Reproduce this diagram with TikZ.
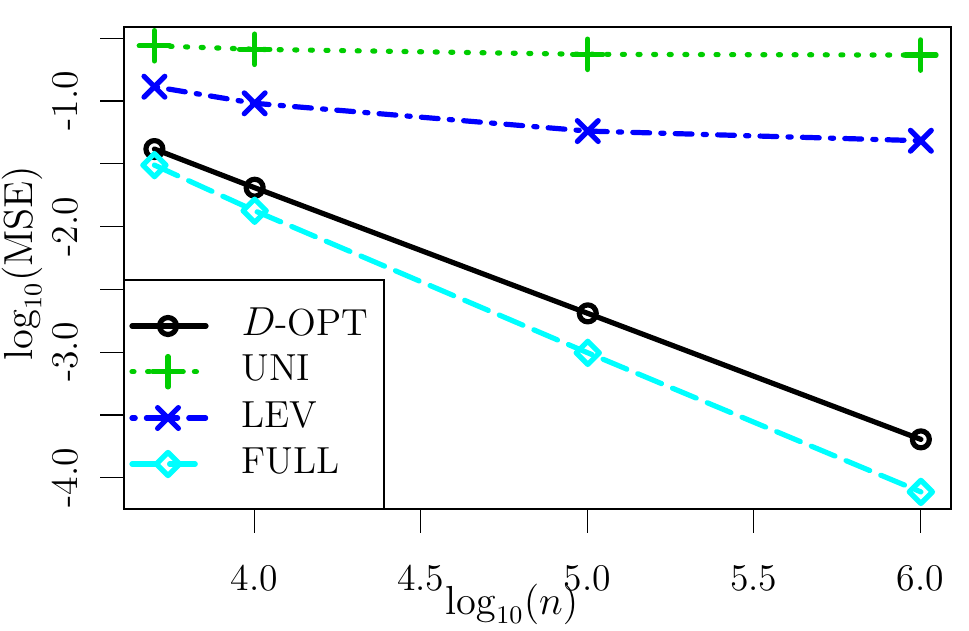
\documentclass[tikz,border=0pt]{standalone}
\usepackage{amsmath}
\usepackage{xcolor}
\usepackage{tikz}
\definecolor{greenthree}{RGB}{0,205,0}
\definecolor{rblue}{RGB}{0,0,255}
\definecolor{rcyan}{RGB}{0,255,255}
\tikzset{
  lab/.style={font=\fontsize{13.4}{16}\selectfont, inner sep=0pt},
  series/.style={line width=1.85pt, line cap=round, line join=round},
  doptline/.style={series, black},
  uniline/.style={series, greenthree, dash pattern=on 0.025cm off 0.17cm},
  levline/.style={series, rblue, dash pattern=on 0.04cm off 0.14cm on 0.21cm off 0.14cm},
  fullline/.style={series, rcyan, dash pattern=on 0.32cm off 0.15cm},
  mcirc/.pic={\draw[solid] (0,0) circle (0.106cm);},
  mplus/.pic={\draw[solid] (-0.19cm,0) -- (0.19cm,0) (0,-0.19cm) -- (0,0.19cm);},
  mcross/.pic={\draw[solid] (-0.13cm,-0.13cm) -- (0.13cm,0.13cm) (-0.13cm,0.13cm) -- (0.13cm,-0.13cm);},
  mdiam/.pic={\draw[solid] (0.145cm,0) -- (0,0.145cm) -- (-0.145cm,0) -- (0,-0.145cm) -- cycle;},
}
\begin{document}
\begin{tikzpicture}[x=0.0125cm, y=-0.0125cm]
	\useasboundingbox (0,0) rectangle (969,630);
	% ticks and tick labels
	\draw[line width=0.45pt] (254.3,509.3) -- (254.3,533.3) (420.8,509.3) -- (420.8,533.3) (587.3,509.3) -- (587.3,533.3) (753.8,509.3) -- (753.8,533.3) (920.3,509.3) -- (920.3,533.3);
	\draw[line width=0.45pt] (100,38.2) -- (124,38.2) (100,101) -- (124,101) (100,163.8) -- (124,163.8) (100,226.6) -- (124,226.6) (100,289.4) -- (124,289.4) (100,352.2) -- (124,352.2) (100,415) -- (124,415) (100,477.8) -- (124,477.8);
	\node[lab] (xa) at (254.3,578) {4.0};
	\node[lab] (xb) at (420.8,578) {4.5};
	\node[lab] (xc) at (587.3,578) {5.0};
	\node[lab] (xd) at (753.8,578) {5.5};
	\node[lab] (xe) at (920.3,578) {6.0};
	\node[lab, rotate=90] (ya) at (65,101) {-1.0};
	\node[lab, rotate=90] (yb) at (65,226.6) {-2.0};
	\node[lab, rotate=90] (yc) at (65,352.2) {-3.0};
	\node[lab, rotate=90] (yd) at (65,477.8) {-4.0};
	\node[lab] (xlabel) at (511.7,604) {$\log_{10}(n)$};
	\node[lab, rotate=90] (ylabel) at (22,263) {$\log_{10}(\mathrm{MSE})$};
	% data, in plot units
	\begin{scope}[shift={(-1077.7,-24.6)}, x=4.1625cm, y=1.57cm]
	\coordinate (dopt1) at (3.699,-1.382);
	\coordinate (dopt2) at (4,-1.690);
	\coordinate (dopt3) at (5,-2.690);
	\coordinate (dopt4) at (6,-3.693);
	\coordinate (uni1) at (3.699,-0.560);
	\coordinate (uni2) at (4,-0.588);
	\coordinate (uni3) at (5,-0.628);
	\coordinate (uni4) at (6,-0.634);
	\coordinate (lev1) at (3.699,-0.886);
	\coordinate (lev2) at (4,-1.018);
	\coordinate (lev3) at (5,-1.239);
	\coordinate (lev4) at (6,-1.316);
	\coordinate (full1) at (3.699,-1.510);
	\coordinate (full2) at (4,-1.873);
	\coordinate (full3) at (5,-3.004);
	\coordinate (full4) at (6,-4.111);
	\draw[doptline] (dopt1) -- (dopt2) -- (dopt3) -- (dopt4);
	\draw[uniline] (uni1) -- (uni2) -- (uni3) -- (uni4);
	\draw[levline] (lev1) -- (lev2) -- (lev3) -- (lev4);
	\draw[fullline] (full1) -- (full2) -- (full3) -- (full4);
	\pic[doptline] at (dopt1) {mcirc}; \pic[doptline] at (dopt2) {mcirc}; \pic[doptline] at (dopt3) {mcirc}; \pic[doptline] at (dopt4) {mcirc};
	\pic[uniline] at (uni1) {mplus}; \pic[uniline] at (uni2) {mplus}; \pic[uniline] at (uni3) {mplus}; \pic[uniline] at (uni4) {mplus};
	\pic[levline] at (lev1) {mcross}; \pic[levline] at (lev2) {mcross}; \pic[levline] at (lev3) {mcross}; \pic[levline] at (lev4) {mcross};
	\pic[fullline] at (full1) {mdiam}; \pic[fullline] at (full2) {mdiam}; \pic[fullline] at (full3) {mdiam}; \pic[fullline] at (full4) {mdiam};
	\end{scope}
	% frame
	\draw[line width=0.6pt] (124,27) rectangle (950.7,509.3);
	% legend
	\filldraw[line width=0.6pt, fill=white] (124,280) rectangle (384.3,509.3);
	\coordinate (la) at (132,326); \coordinate (lb) at (206,326);
	\coordinate (lc) at (132,371.7); \coordinate (ld) at (206,371.7);
	\coordinate (le) at (132,418); \coordinate (lf) at (206,418);
	\coordinate (lg) at (132,464); \coordinate (lh) at (206,464);
	\draw[doptline] (la) -- (lb);
	\draw[uniline] (lc) -- (ld);
	\draw[levline] (le) -- (lf);
	\draw[fullline] (lg) -- (lh);
	\pic[doptline] at (168,326) {mcirc};
	\pic[uniline] at (168,371.7) {mplus};
	\pic[levline] at (168,418) {mcross};
	\pic[fullline] at (168,464) {mdiam};
	\node[lab, anchor=base west] (ldopt) at (241,335) {$D$-OPT};
	\node[lab, anchor=base west] (luni) at (241,380.7) {UNI};
	\node[lab, anchor=base west] (llev) at (241,427) {LEV};
	\node[lab, anchor=base west] (lfull) at (241,473) {FULL};
\end{tikzpicture}
\end{document}
